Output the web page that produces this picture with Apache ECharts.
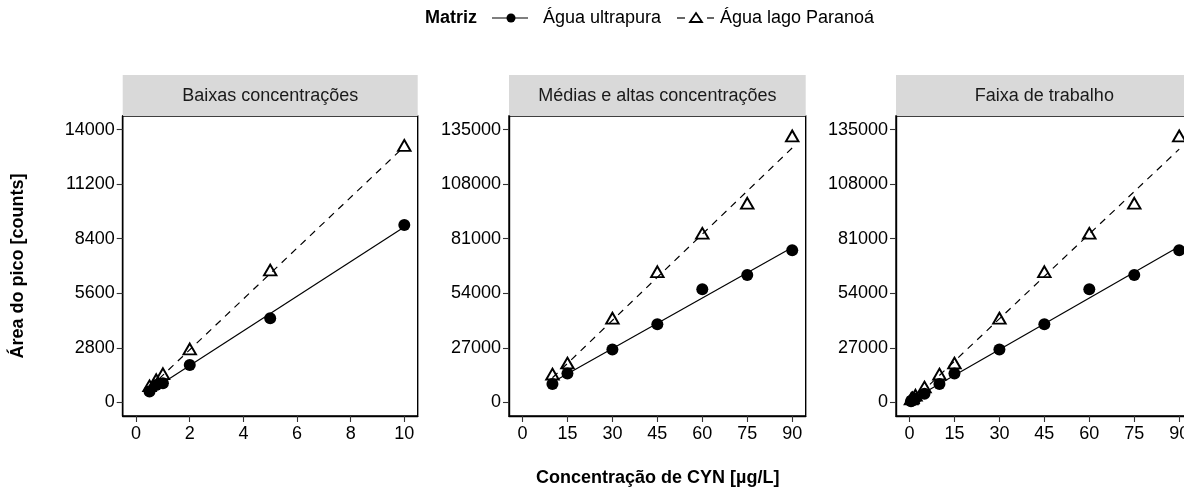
<!DOCTYPE html>
<html>
<head>
<meta charset="utf-8">
<script src="https://cdn.jsdelivr.net/npm/echarts@6/dist/echarts.min.js"></script>
<style>
  html, body { margin: 0; padding: 0; background: #fff; }
  #chart { width: 1184px; height: 488px; }
</style>
</head>
<body>
<div id="chart"></div>
<script>
const panelTitles = ['Baixas concentrações', 'Médias e altas concentrações', 'Faixa de trabalho']
const seriesNames = ['Água ultrapura', 'Água lago Paranoá']

// baixas concentrações (µg/L)
const lowConc = [0.5, 0.75, 1, 2, 5, 10]
const lowUltrapura = [560, 890, 980, 1920, 4320, 9110]
const lowLago = [760, 1070, 1380, 2650, 6700, 13100]

// médias e altas concentrações
const highConc = [10, 15, 30, 45, 60, 75, 90]
const highUltrapura = [9110, 14300, 26200, 38700, 56000, 63000, 75300]
const highLago = [13100, 18550, 40800, 63800, 82800, 97700, 131000]

const xTicksLow = [0, 2, 4, 6, 8, 10]
const xTicksHigh = [0, 15, 30, 45, 60, 75, 90]
const yTicksLow = [0, 2800, 5600, 8400, 11200, 14000]
const yTicksHigh = [0, 27000, 54000, 81000, 108000, 135000]

// faixa de trabalho = todos os pontos
const allConc = lowConc.concat(highConc.slice(1))
const allUltrapura = lowUltrapura.concat(highUltrapura.slice(1))
const allLago = lowLago.concat(highLago.slice(1))

const panels = [
  { x: lowConc, y: [lowUltrapura, lowLago], xTicks: xTicksLow, yTicks: yTicksLow },
  { x: highConc, y: [highUltrapura, highLago], xTicks: xTicksHigh, yTicks: yTicksHigh },
  { x: allConc, y: [allUltrapura, allLago], xTicks: xTicksHigh, yTicks: yTicksHigh }
]

const gridPos = [
  { left: 122.7, top: 116, width: 295, height: 300 },
  { left: 509, top: 116, width: 296.7, height: 300 },
  { left: 896, top: 116, width: 296.7, height: 300 }
]

const FONT = 'Liberation Sans, Arial, sans-serif'
const FS = 18

// regressão linear simples (como geom_smooth method = lm)
const fitLine = (xs, ys) => {
  const n = xs.length
  const mx = xs.reduce((a, b) => a + b, 0) / n
  const my = ys.reduce((a, b) => a + b, 0) / n
  let sxy = 0, sxx = 0
  xs.forEach((x, i) => { sxy += (x - mx) * (ys[i] - my); sxx += (x - mx) ** 2 })
  const b = sxy / sxx
  const a = my - b * mx
  const x0 = Math.min(...xs), x1 = Math.max(...xs)
  return [[x0, a + b * x0], [x1, a + b * x1]]
}

const expand = (ticks) => {
  const lo = ticks[0], hi = ticks[ticks.length - 1]
  const pad = (hi - lo) * 0.05
  return [lo - pad, hi + pad]
}

const grids = [], xAxes = [], yAxes = [], series = [], graphics = []

panels.forEach((p, i) => {
  const g = gridPos[i]
  grids.push({
    ...g, show: true, backgroundColor: '#fff', borderColor: '#000', borderWidth: 1.4,
    containLabel: false, outerBoundsMode: 'none'
  })
  const [xmin, xmax] = expand(p.xTicks)
  const [ymin, ymax] = expand(p.yTicks)
  xAxes.push({
    type: 'value', gridIndex: i, min: xmin, max: xmax,
    splitLine: { show: false },
    axisLine: { show: true, onZero: false, lineStyle: { color: '#000', width: 1.4 } },
    axisTick: { show: true, length: 6, customValues: p.xTicks, lineStyle: { color: '#333', width: 1.1 } },
    axisLabel: { customValues: p.xTicks, formatter: v => String(v), color: '#000', fontFamily: FONT, fontSize: FS, margin: 9 }
  })
  yAxes.push({
    type: 'value', gridIndex: i, min: ymin, max: ymax,
    splitLine: { show: false },
    axisLine: { show: true, onZero: false, lineStyle: { color: '#000', width: 1.4 } },
    axisTick: { show: true, length: 6, customValues: p.yTicks, lineStyle: { color: '#333', width: 1.1 } },
    axisLabel: { customValues: p.yTicks, formatter: v => String(v), color: '#000', fontFamily: FONT, fontSize: FS, margin: 8 }
  })

  // linhas de ajuste
  p.y.forEach((ys, k) => {
    series.push({
      type: 'line', name: seriesNames[k], xAxisIndex: i, yAxisIndex: i,
      data: fitLine(p.x, ys), showSymbol: false, silent: true, z: 2,
      lineStyle: { color: '#000', width: 1.2, type: k === 0 ? 'solid' : [7, 6] }
    })
  })
  // pontos
  series.push({
    type: 'scatter', name: seriesNames[0], xAxisIndex: i, yAxisIndex: i, z: 3,
    data: p.x.map((x, j) => [x, p.y[0][j]]),
    symbol: 'circle', symbolSize: 12,
    itemStyle: { color: '#000', opacity: 1 }
  })
  series.push({
    type: 'scatter', name: seriesNames[1], xAxisIndex: i, yAxisIndex: i, z: 4,
    data: p.x.map((x, j) => [x, p.y[1][j]]),
    symbol: 'triangle', symbolSize: [12.5, 10.8], symbolOffset: [0, -1.8],
    itemStyle: { color: 'rgba(255,255,255,0)', borderColor: '#000', borderWidth: 1.9, opacity: 1 }
  })

  // faixa do título do painel
  graphics.push({
    type: 'rect', left: g.left, top: 75, silent: true,
    shape: { width: g.width, height: 41 },
    style: { fill: '#d9d9d9' }
  })
  graphics.push({
    type: 'text', x: g.left + g.width / 2, y: 96, silent: true,
    style: { text: panelTitles[i], fill: '#1a1a1a', font: `${FS}px ${FONT}`, textAlign: 'center', textVerticalAlign: 'middle' }
  })
})

// legenda
const legY = 18
graphics.push(
  { type: 'text', x: 425, y: legY, style: { text: 'Matriz', fill: '#000', font: `bold ${FS}px ${FONT}`, textVerticalAlign: 'middle' } },
  { type: 'line', shape: { x1: 492, y1: legY, x2: 528, y2: legY }, style: { stroke: '#000', lineWidth: 1.2 } },
  { type: 'circle', shape: { cx: 511, cy: legY, r: 4.5 }, style: { fill: '#000' } },
  { type: 'text', x: 543, y: legY, style: { text: seriesNames[0], fill: '#000', font: `${FS}px ${FONT}`, textVerticalAlign: 'middle' } },
  { type: 'line', shape: { x1: 677, y1: legY, x2: 685, y2: legY }, style: { stroke: '#000', lineWidth: 1.2 } },
  { type: 'polygon', shape: { points: [[696, legY - 5], [702, legY + 4], [690, legY + 4]] }, style: { fill: 'none', stroke: '#000', lineWidth: 1.8 } },
  { type: 'line', shape: { x1: 707, y1: legY, x2: 714, y2: legY }, style: { stroke: '#000', lineWidth: 1.2 } },
  { type: 'text', x: 720, y: legY, style: { text: seriesNames[1], fill: '#000', font: `${FS}px ${FONT}`, textVerticalAlign: 'middle' } }
)

// títulos dos eixos
graphics.push(
  { type: 'text', x: 657.7, y: 478, style: { text: 'Concentração de CYN [µg/L]', fill: '#000', font: `bold ${FS}px ${FONT}`, textAlign: 'center', textVerticalAlign: 'middle' } },
  { type: 'text', x: 18, y: 266, rotation: Math.PI / 2, style: { text: 'Área do pico [counts]', fill: '#000', font: `bold ${FS}px ${FONT}`, textAlign: 'center', textVerticalAlign: 'middle' } }
)

const chart = echarts.init(document.getElementById('chart'), null, { renderer: 'canvas' })
chart.setOption({
  animation: false,
  backgroundColor: '#fff',
  grid: grids,
  xAxis: xAxes,
  yAxis: yAxes,
  series: series,
  graphic: graphics
})
</script>
</body>
</html>
